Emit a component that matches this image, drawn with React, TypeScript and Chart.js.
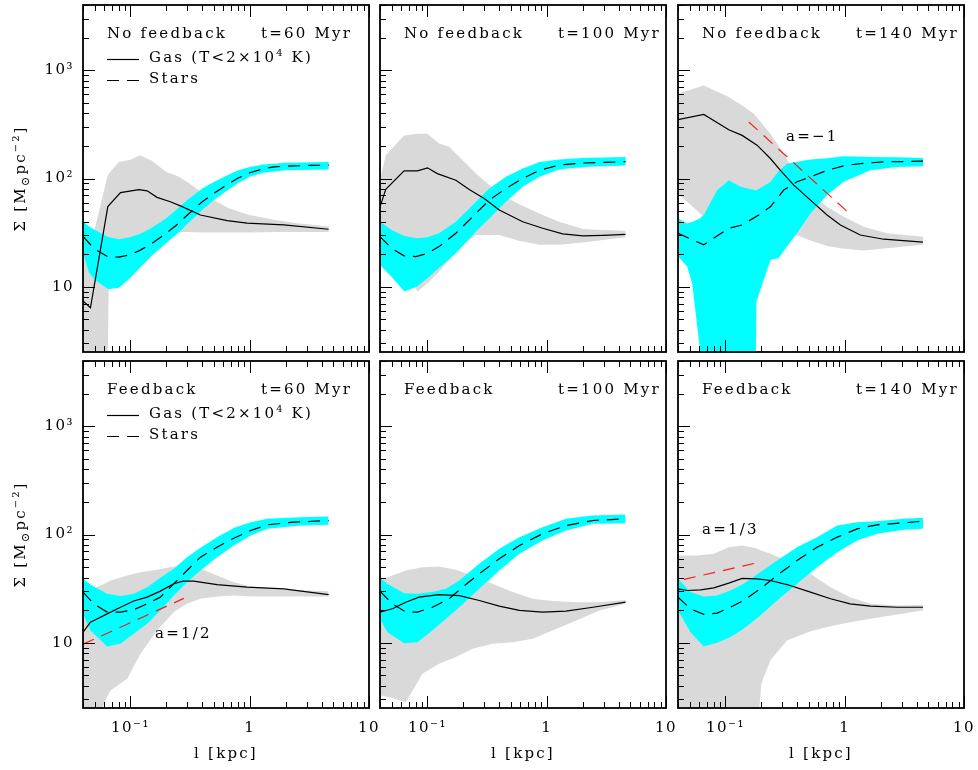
import React, { useEffect, useRef } from 'react';
import { Chart, registerables } from 'chart.js';

Chart.register(...registerables);

// ---------- axes ----------
const X_MIN = 0.04;
const X_MAX = 10;
const Y_MIN = 2.5;
const Y_MAX = 4000;

const xTickValues = [0.1, 1, 10];
const xTickLabels = ['10⁻¹', '1', '10'];
const yTickValues = [10, 100, 1000];
const yTickLabels = ['10', '10²', '10³'];

// ---------- No feedback, t=60 Myr ----------
const nf60GasX = [0.04, 0.0462, 0.0646, 0.0825, 0.1175, 0.138, 0.167, 0.216, 0.271, 0.386, 0.646, 0.95, 1.93, 4.59];
const nf60GasY = [7.4, 6.4, 55, 74, 79, 77, 67, 61, 55, 46, 40.9, 38.7, 37.3, 34];
const nf60StarX = [0.04, 0.05, 0.065, 0.08, 0.1, 0.12, 0.15, 0.2, 0.25, 0.3, 0.4, 0.5, 0.65, 0.8, 1, 1.3, 1.6, 2, 3.2, 4.6];
const nf60StarY = [29.2, 22.3, 18.9, 18.8, 19.8, 21.7, 25, 31.3, 38.1, 46, 61, 73, 88, 101, 113, 123, 128, 130, 132, 133];
const nf60CyanX = [0.04, 0.045, 0.05, 0.065, 0.08, 0.1, 0.12, 0.15, 0.2, 0.25, 0.3, 0.4, 0.5, 0.65, 0.8, 1, 1.3, 2, 4.6];
const nf60CyanHi = [40, 36, 33.7, 28.8, 27.5, 28.8, 30.7, 34.9, 43, 53, 63.4, 81, 93, 107, 119, 128, 135, 140, 142];
const nf60CyanLo = [20.6, 13.4, 11.7, 9.5, 9.8, 12.1, 15, 19.2, 25.4, 31.3, 38.1, 51.3, 63.4, 78, 91, 104, 113, 119, 121];
const nf60GrayX = [0.04, 0.05, 0.064, 0.066, 0.08, 0.1, 0.12, 0.15, 0.2, 0.25, 0.3, 0.4, 0.5, 0.65, 0.8, 1, 1.6, 2.5, 4.6];
const nf60GrayHi = [31.4, 33.7, 104, 112, 142, 149, 164, 147, 115, 105, 93, 74, 63, 54, 49.5, 46, 41.5, 38.7, 36];
const nf60GrayLo = [1, 1, 1, 16.6, 19.2, 22.8, 26.4, 30.3, 32, 32, 32, 31.7, 31.7, 31.7, 31.7, 31.7, 32, 32, 32];

// ---------- No feedback, t=100 Myr ----------
const nf100GasX = [0.04, 0.0447, 0.0637, 0.0824, 0.1, 0.121, 0.173, 0.224, 0.299, 0.4, 0.629, 0.925, 1.36, 2.01, 2.96, 4.58];
const nf100GasY = [54.8, 79.3, 117.6, 117.6, 125.4, 111, 96.5, 79.3, 65.5, 51.2, 39.9, 34.7, 30.8, 29.5, 29.9, 30.5];
const nf100StarX = [0.04, 0.05, 0.0637, 0.08, 0.1, 0.125, 0.173, 0.247, 0.33, 0.455, 0.629, 0.867, 1.27, 2.01, 4.58];
const nf100StarY = [29.0, 22.7, 19.3, 19.0, 20.4, 23.5, 31.2, 46, 63.2, 80.9, 100, 119, 133, 139, 143];
const nf100CyanX = [0.04, 0.05, 0.064, 0.082, 0.1, 0.125, 0.173, 0.247, 0.33, 0.455, 0.63, 0.87, 1.27, 2.0, 4.6];
const nf100CyanHi = [39.9, 33.5, 29.5, 28, 28.7, 31.2, 39.9, 58.9, 80.9, 103.6, 123.6, 142.3, 149.5, 155, 158];
const nf100CyanLo = [15.9, 12.4, 9.06, 10.07, 12.0, 14.9, 20.4, 31.2, 42.8, 61, 83.8, 103.6, 121, 128, 131.8];
const nf100GrayX = [0.04, 0.0447, 0.0637, 0.0824, 0.1, 0.125, 0.152, 0.185, 0.255, 0.4, 0.57, 0.867, 1.27, 2.01, 2.96, 4.58];
const nf100GrayHi = [96.5, 164, 250, 259, 259, 210, 196, 158, 111, 72.8, 58.9, 47.6, 39.9, 34.2, 33.5, 33.0];
const nf100GrayLo = [31.2, 27.1, 15.4, 9.06, 10.8, 13.8, 17.7, 22.7, 30.1, 30.1, 26.7, 24.4, 24.4, 25.6, 27.1, 28.7];

// ---------- No feedback, t=140 Myr ----------
const nf140GasX = [0.04, 0.0658, 0.1066, 0.138, 0.184, 0.238, 0.289, 0.374, 0.516, 0.711, 0.92, 1.35, 2.12, 4.53];
const nf140GasY = [349, 391, 282, 250, 203, 153, 119, 86.9, 63.2, 46, 37.2, 30.1, 27.5, 25.8];
const nf140StarX = [0.04, 0.0658, 0.1066, 0.138, 0.19, 0.238, 0.308, 0.398, 0.516, 0.711, 0.98, 1.35, 2.12, 4.53];
const nf140StarY = [31.2, 24.4, 34.7, 37.2, 46, 54.8, 78.2, 93.2, 103.6, 119, 130.8, 137.4, 142.3, 144.5];
const nf140CyanX = [0.04, 0.0477, 0.0526, 0.061, 0.0658, 0.0852, 0.1066, 0.134, 0.178, 0.182, 0.238, 0.28, 0.328, 0.398, 0.516, 0.711, 0.98, 1.64, 2.74, 4.53];
const nf140CyanHi = [42.8, 38.5, 39.9, 42.8, 46, 78, 96.5, 84, 78, 78, 93, 117.6, 137, 143, 149.5, 154, 160.6, 158, 157, 155];
const nf140CyanLo = [19, 15.4, 10.8, 2.7, 1, 1, 1, 1, 1, 7.3, 17.7, 18.4, 23.5, 31.2, 47.6, 70.3, 93.2, 119, 128, 130];
const nf140GrayX = [0.04, 0.0658, 0.1066, 0.138, 0.173, 0.238, 0.308, 0.398, 0.516, 0.711, 0.98, 1.44, 2.26, 4.53];
const nf140GrayHi = [606, 722, 565, 473, 396, 259, 170, 103.6, 72.8, 54.8, 44.4, 35.9, 31.2, 29.0];
const nf140GrayLo = [72.8, 44.4, 31.2, 27, 25.2, 27, 31.2, 30, 26.7, 23.8, 22.4, 21.6, 22.7, 24.4];
const nf140SlopeX = [0.157, 1.05];
const nf140SlopeY = [332, 49.5];

// ---------- Feedback, t=60 Myr ----------
const fb60GasX = [0.04, 0.0462, 0.0637, 0.0825, 0.1066, 0.138, 0.178, 0.231, 0.276, 0.339, 0.532, 0.95, 1.93, 4.59];
const fb60GasY = [12.5, 15.5, 18.5, 21.3, 24.3, 26.4, 30, 35.1, 37.1, 37.1, 34.5, 32.6, 31.5, 27.9];
const fb60StarX = [0.04, 0.0493, 0.0637, 0.0825, 0.1066, 0.138, 0.178, 0.231, 0.298, 0.386, 0.532, 0.735, 1.02, 1.4, 2.33, 4.59];
const fb60StarY = [29.4, 22.9, 19.2, 19.2, 20.2, 22.9, 26.4, 35.1, 46.5, 61.8, 76.4, 92.5, 108.9, 122.8, 130, 134.6];
const fb60CyanX = [0.04, 0.0462, 0.0637, 0.0825, 0.1066, 0.138, 0.178, 0.231, 0.298, 0.386, 0.532, 0.735, 1.02, 1.4, 2.66, 4.59];
const fb60CyanHi = [39, 34.5, 28.3, 27, 28.3, 32.6, 39.8, 48.2, 61.8, 75.3, 94.5, 115, 130, 139.5, 144.6, 146.6];
const fb60CyanLo = [18.5, 13, 9.25, 9.8, 12.1, 15, 19.9, 27.3, 36.3, 46.5, 61.8, 79.1, 98, 112.8, 121, 122.8];
const fb60GrayX = [0.04, 0.0493, 0.06, 0.068, 0.0938, 0.121, 0.167, 0.231, 0.298, 0.386, 0.532, 0.735, 1.02, 1.93, 4.59];
const fb60GrayHi = [28.3, 31.5, 35, 37.6, 41.9, 44.9, 47.2, 50.7, 51.4, 48.2, 41.9, 36.3, 33.1, 30.9, 30.0];
const fb60GrayLo = [1, 1, 2.8, 3.63, 4.66, 7.9, 13, 19.2, 22.9, 25.5, 26.8, 27.3, 26.8, 26.8, 26.8];
const fb60SlopeX = [0.04, 0.28];
const fb60SlopeY = [9.7, 25.7];

// ---------- Feedback, t=100 Myr ----------
const fb100GasX = [0.04, 0.0508, 0.0658, 0.085, 0.125, 0.185, 0.272, 0.4, 0.59, 0.92, 1.45, 2.44, 4.58];
const fb100GasY = [19.2, 20.6, 23.7, 26.4, 27.9, 27.3, 24.6, 21.8, 19.9, 19.2, 19.6, 21.3, 23.7];
const fb100StarX = [0.04, 0.0508, 0.0658, 0.0824, 0.11, 0.152, 0.197, 0.272, 0.4, 0.59, 0.92, 1.45, 2.44, 4.58];
const fb100StarY = [30, 22.9, 19.2, 19.2, 21.3, 25.5, 32.6, 43.4, 59.6, 79.1, 101.4, 121, 134.6, 139.5];
const fb100CyanX = [0.04, 0.0461, 0.0637, 0.0824, 0.11, 0.143, 0.185, 0.272, 0.4, 0.59, 0.92, 1.45, 2.44, 4.58];
const fb100CyanHi = [39.8, 35.1, 28.7, 28.3, 29.4, 31.5, 37.6, 53.6, 73.8, 94.5, 116.8, 139.5, 149.6, 153];
const fb100CyanLo = [16.7, 12.5, 9.9, 10.1, 13, 16.7, 21.3, 31.5, 46.5, 66.4, 88, 108.9, 125.4, 127];
const fb100GrayX = [0.04, 0.0508, 0.0658, 0.0908, 0.125, 0.173, 0.239, 0.351, 0.518, 0.763, 1.12, 1.77, 2.76, 4.58];
const fb100GrayHi = [37.6, 41.9, 46.5, 49.9, 50.7, 47.2, 41.9, 35.1, 29.4, 25.5, 24.3, 23.7, 23.7, 24.9];
const fb100GrayLo = [3.27, 3.1, 2.83, 5.18, 6.4, 7.4, 8.8, 9.8, 10.1, 10.9, 13, 16.1, 19.9, 22.9];

// ---------- Feedback, t=140 Myr ----------
const fb140GasX = [0.04, 0.0477, 0.0618, 0.0799, 0.1066, 0.138, 0.184, 0.238, 0.328, 0.516, 0.76, 1.11, 1.64, 2.75, 4.53];
const fb140GasY = [31.5, 30.4, 30.8, 32.2, 35.6, 39.3, 39, 37.6, 34.5, 29.4, 25.5, 22.9, 21.8, 21.3, 21.3];
const fb140StarX = [0.04, 0.0509, 0.0658, 0.0852, 0.11, 0.142, 0.196, 0.271, 0.398, 0.586, 0.866, 1.27, 1.87, 3.12, 4.53];
const fb140StarY = [26.4, 20.6, 18.3, 18.8, 21.3, 24.6, 31.5, 41.9, 57.5, 76.4, 94.5, 112.8, 122.8, 128.2, 132.7];
const fb140CyanX = [0.04, 0.0509, 0.0658, 0.0852, 0.11, 0.142, 0.196, 0.271, 0.398, 0.586, 0.866, 1.27, 1.87, 3.12, 4.53];
const fb140CyanHi = [39, 29.4, 26.8, 27.3, 30.4, 35.1, 44.9, 57.5, 76.4, 94.5, 121, 130, 132.7, 139.5, 142.6];
const fb140CyanLo = [19.9, 12.5, 9.25, 10, 11.3, 13.5, 17.9, 24.6, 35.1, 49.9, 68.7, 88, 101.4, 110.4, 112.8];
const fb140GrayX = [0.04, 0.0579, 0.0799, 0.1066, 0.138, 0.18, 0.2, 0.238, 0.328, 0.516, 0.76, 1.11, 1.64, 2.75, 4.53];
const fb140GrayHi = [64, 64, 66.4, 76.4, 79.1, 74.5, 71, 66.4, 57.5, 43.4, 32.6, 26.4, 22.9, 22.1, 22.3];
const fb140GrayLo = [1, 1, 1, 1, 1, 1, 4.2, 6.9, 10.5, 12.8, 14.2, 15.5, 16.7, 18.3, 19.9];
const fb140SlopeX = [0.0448, 0.196];
const fb140SlopeY = [38.5, 55.6];

// ---------- style / layout ----------
const FONT = '"DejaVu Serif", serif';
const FONT_SIZE = 15;
const LETTER_SPACING = '2.2px';
const GRAY = '#d9d9d9';
const CYAN = '#00ffff';
const RED = '#ff1a1a';
const PANEL_LEFT = [83, 380, 678];
const PANEL_TOP = [5, 361];
const PANEL_W = 286;
const PANEL_H = 347;

type Note = { text: string; dx: number; dy: number };
type PanelDef = {
  row: number; col: number; title: string; time: string; legend: boolean;
  gasX: number[]; gasY: number[]; starX: number[]; starY: number[];
  cyanX: number[]; cyanHi: number[]; cyanLo: number[];
  grayX: number[]; grayHi: number[]; grayLo: number[];
  slopeX?: number[]; slopeY?: number[]; note?: Note;
};

const panels: PanelDef[] = [
  { row: 0, col: 0, title: 'No feedback', time: 't=60 Myr', legend: true,
    gasX: nf60GasX, gasY: nf60GasY, starX: nf60StarX, starY: nf60StarY,
    cyanX: nf60CyanX, cyanHi: nf60CyanHi, cyanLo: nf60CyanLo,
    grayX: nf60GrayX, grayHi: nf60GrayHi, grayLo: nf60GrayLo },
  { row: 0, col: 1, title: 'No feedback', time: 't=100 Myr', legend: false,
    gasX: nf100GasX, gasY: nf100GasY, starX: nf100StarX, starY: nf100StarY,
    cyanX: nf100CyanX, cyanHi: nf100CyanHi, cyanLo: nf100CyanLo,
    grayX: nf100GrayX, grayHi: nf100GrayHi, grayLo: nf100GrayLo },
  { row: 0, col: 2, title: 'No feedback', time: 't=140 Myr', legend: false,
    gasX: nf140GasX, gasY: nf140GasY, starX: nf140StarX, starY: nf140StarY,
    cyanX: nf140CyanX, cyanHi: nf140CyanHi, cyanLo: nf140CyanLo,
    grayX: nf140GrayX, grayHi: nf140GrayHi, grayLo: nf140GrayLo,
    slopeX: nf140SlopeX, slopeY: nf140SlopeY, note: { text: 'a=−1', dx: 108, dy: 136 } },
  { row: 1, col: 0, title: 'Feedback', time: 't=60 Myr', legend: true,
    gasX: fb60GasX, gasY: fb60GasY, starX: fb60StarX, starY: fb60StarY,
    cyanX: fb60CyanX, cyanHi: fb60CyanHi, cyanLo: fb60CyanLo,
    grayX: fb60GrayX, grayHi: fb60GrayHi, grayLo: fb60GrayLo,
    slopeX: fb60SlopeX, slopeY: fb60SlopeY, note: { text: 'a=1/2', dx: 72, dy: 277 } },
  { row: 1, col: 1, title: 'Feedback', time: 't=100 Myr', legend: false,
    gasX: fb100GasX, gasY: fb100GasY, starX: fb100StarX, starY: fb100StarY,
    cyanX: fb100CyanX, cyanHi: fb100CyanHi, cyanLo: fb100CyanLo,
    grayX: fb100GrayX, grayHi: fb100GrayHi, grayLo: fb100GrayLo },
  { row: 1, col: 2, title: 'Feedback', time: 't=140 Myr', legend: false,
    gasX: fb140GasX, gasY: fb140GasY, starX: fb140StarX, starY: fb140StarY,
    cyanX: fb140CyanX, cyanHi: fb140CyanHi, cyanLo: fb140CyanLo,
    grayX: fb140GrayX, grayHi: fb140GrayHi, grayLo: fb140GrayLo,
    slopeX: fb140SlopeX, slopeY: fb140SlopeY, note: { text: 'a=1/3', dx: 24, dy: 173 } },
];

const pts = (xs: number[], ys: number[]) => xs.map((x, i) => ({ x, y: ys[i] }));

type Seg = { t: string; s?: number; dy?: number };
function drawRich(ctx: CanvasRenderingContext2D, segs: Seg[], x: number, y: number, align: 'left' | 'center') {
  const widths = segs.map((sg) => {
    ctx.font = `${FONT_SIZE * (sg.s || 1)}px ${FONT}`;
    return ctx.measureText(sg.t).width;
  });
  const total = widths.reduce((a, b) => a + b, 0);
  let cx = align === 'center' ? x - total / 2 : x;
  ctx.textAlign = 'left';
  segs.forEach((sg, i) => {
    ctx.font = `${FONT_SIZE * (sg.s || 1)}px ${FONT}`;
    ctx.fillText(sg.t, cx, y + (sg.dy || 0));
    cx += widths[i];
  });
}

function makeDecor(p: PanelDef) {
  return {
    id: 'panelDecor',
    beforeDraw(chart: any) {
      chart.ctx.letterSpacing = '1.5px';
    },
    afterDraw(chart: any) {
      const { ctx, chartArea: a } = chart;
      const xs = chart.scales.x;
      const ys = chart.scales.y;
      ctx.save();
      ctx.strokeStyle = '#000';
      ctx.lineWidth = 1;
      ctx.setLineDash([]);
      ctx.beginPath();
      for (let d = -2; d <= 1; d++) {
        for (let m = 1; m <= 9; m++) {
          const v = m * Math.pow(10, d);
          if (v < X_MIN * 0.999 || v > X_MAX * 1.001) continue;
          const px = Math.round(xs.getPixelForValue(v)) + 0.5;
          const len = m === 1 ? 12 : 6;
          ctx.moveTo(px, a.bottom);
          ctx.lineTo(px, a.bottom - len);
          ctx.moveTo(px, a.top);
          ctx.lineTo(px, a.top + len);
        }
      }
      for (let d = 0; d <= 3; d++) {
        for (let m = 1; m <= 9; m++) {
          const v = m * Math.pow(10, d);
          if (v < Y_MIN * 0.999 || v > Y_MAX * 1.001) continue;
          const py = Math.round(ys.getPixelForValue(v)) + 0.5;
          const len = m === 1 ? 12 : 6;
          ctx.moveTo(a.left, py);
          ctx.lineTo(a.left + len, py);
        }
      }
      ctx.stroke();
      ctx.lineWidth = 1.8;
      ctx.strokeRect(a.left, a.top, a.right - a.left, a.bottom - a.top);

      ctx.fillStyle = '#000';
      ctx.letterSpacing = LETTER_SPACING;
      ctx.textBaseline = 'alphabetic';
      ctx.textAlign = 'left';
      ctx.font = `${FONT_SIZE}px ${FONT}`;
      ctx.fillText(p.title, a.left + 24, a.top + 33);
      ctx.fillText(p.time, a.left + 178, a.top + 33);

      if (p.legend) {
        ctx.lineWidth = 1.2;
        ctx.beginPath();
        ctx.moveTo(a.left + 24, a.top + 54.5);
        ctx.lineTo(a.left + 56, a.top + 54.5);
        ctx.stroke();
        ctx.setLineDash([12, 8]);
        ctx.beginPath();
        ctx.moveTo(a.left + 24, a.top + 75.5);
        ctx.lineTo(a.left + 56, a.top + 75.5);
        ctx.stroke();
        ctx.setLineDash([]);
        drawRich(ctx, [{ t: 'Gas (T<2×10' }, { t: '4', s: 0.65, dy: -6 }, { t: ' K)' }], a.left + 66, a.top + 57, 'left');
        ctx.font = `${FONT_SIZE}px ${FONT}`;
        ctx.fillText('Stars', a.left + 66, a.top + 78);
      }

      if (p.note) {
        ctx.font = `${FONT_SIZE}px ${FONT}`;
        ctx.fillText(p.note.text, a.left + p.note.dx, a.top + p.note.dy);
      }

      if (p.col === 0) {
        ctx.save();
        ctx.translate(a.left - 58, (a.top + a.bottom) / 2);
        ctx.rotate(-Math.PI / 2);
        drawRich(ctx, [
          { t: 'Σ [M' },
          { t: '⊙', s: 0.75, dy: 4 },
          { t: 'pc' },
          { t: '−2', s: 0.65, dy: -6 },
          { t: ']' },
        ], 0, 0, 'center');
        ctx.restore();
      }
      if (p.row === 1) {
        ctx.font = `${FONT_SIZE}px ${FONT}`;
        drawRich(ctx, [{ t: 'l [kpc]' }], (a.left + a.right) / 2, a.bottom + 50, 'center');
      }
      ctx.restore();
    },
  };
}

function Panel({ p }: { p: PanelDef }) {
  const ref = useRef<HTMLCanvasElement>(null);
  const ml = p.col === 0 ? 83 : 12;
  const mr = 14;
  const mt = p.row === 0 ? 5 : 8;
  const mb = p.row === 1 ? 62 : 6;
  const left = PANEL_LEFT[p.col] - ml;
  const top = PANEL_TOP[p.row] - mt;
  const w = PANEL_W + ml + mr;
  const h = PANEL_H + mt + mb;

  useEffect(() => {
    const common = { pointRadius: 0, pointHoverRadius: 0, tension: 0 };
    const datasets: any[] = [
      { ...common, data: pts(p.grayX, p.grayHi), fill: '+1', backgroundColor: GRAY, borderColor: 'rgba(0,0,0,0)', borderWidth: 0, order: 6 },
      { ...common, data: pts(p.grayX, p.grayLo), fill: false, borderColor: 'rgba(0,0,0,0)', borderWidth: 0, order: 6 },
      { ...common, data: pts(p.cyanX, p.cyanHi), fill: '+1', backgroundColor: CYAN, borderColor: 'rgba(0,0,0,0)', borderWidth: 0, order: 5 },
      { ...common, data: pts(p.cyanX, p.cyanLo), fill: false, borderColor: 'rgba(0,0,0,0)', borderWidth: 0, order: 5 },
    ];
    if (p.slopeX && p.slopeY) {
      datasets.push({ ...common, data: pts(p.slopeX, p.slopeY), fill: false, borderColor: RED, borderWidth: 1.2, borderDash: [12, 8], order: 3 });
    }
    datasets.push({ ...common, data: pts(p.gasX, p.gasY), fill: false, borderColor: '#000', borderWidth: 1.2, order: 2 });
    datasets.push({ ...common, data: pts(p.starX, p.starY), fill: false, borderColor: '#000', borderWidth: 1.2, borderDash: [12, 8], order: 1 });

    const chart = new Chart(ref.current as HTMLCanvasElement, {
      type: 'line',
      data: { datasets },
      options: {
        animation: false,
        responsive: false,
        devicePixelRatio: 1,
        events: [],
        layout: { padding: { left: 0, right: mr, top: mt, bottom: 0 } },
        plugins: { legend: { display: false }, tooltip: { enabled: false } },
        scales: {
          x: {
            type: 'logarithmic',
            min: X_MIN,
            max: X_MAX,
            grid: { display: false, drawTicks: false },
            border: { display: false },
            afterBuildTicks: (s: any) => { s.ticks = xTickValues.map((v) => ({ value: v })); },
            afterFit: (s: any) => {
              s.height = mb;
              s.paddingLeft = 0; s.paddingRight = 0; s.paddingTop = 0; s.paddingBottom = 0;
            },
            ticks: {
              display: p.row === 1,
              autoSkip: false,
              maxRotation: 0,
              minRotation: 0,
              padding: 11,
              color: '#000',
              font: { family: FONT, size: FONT_SIZE },
              callback: (_v: any, i: number) => xTickLabels[i],
            },
          },
          y: {
            type: 'logarithmic',
            min: Y_MIN,
            max: Y_MAX,
            grid: { display: false, drawTicks: false },
            border: { display: false },
            afterBuildTicks: (s: any) => { s.ticks = yTickValues.map((v) => ({ value: v })); },
            afterFit: (s: any) => {
              s.width = ml;
              s.paddingLeft = 0; s.paddingRight = 0; s.paddingTop = 0; s.paddingBottom = 0;
            },
            ticks: {
              display: p.col === 0,
              autoSkip: false,
              padding: 9,
              color: '#000',
              font: { family: FONT, size: FONT_SIZE },
              callback: (_v: any, i: number) => yTickLabels[i],
            },
          },
        },
      } as any,
      plugins: [makeDecor(p)],
    });
    return () => chart.destroy();
  }, []);

  return (
    <canvas
      ref={ref}
      width={w}
      height={h}
      style={{ position: 'absolute', left, top, width: w, height: h }}
    />
  );
}

export default function App() {
  return (
    <div style={{ position: 'absolute', left: 0, top: 0, width: 978, height: 770, background: '#fff', overflow: 'hidden' }}>
      {panels.map((p, i) => (
        <Panel key={i} p={p} />
      ))}
    </div>
  );
}
